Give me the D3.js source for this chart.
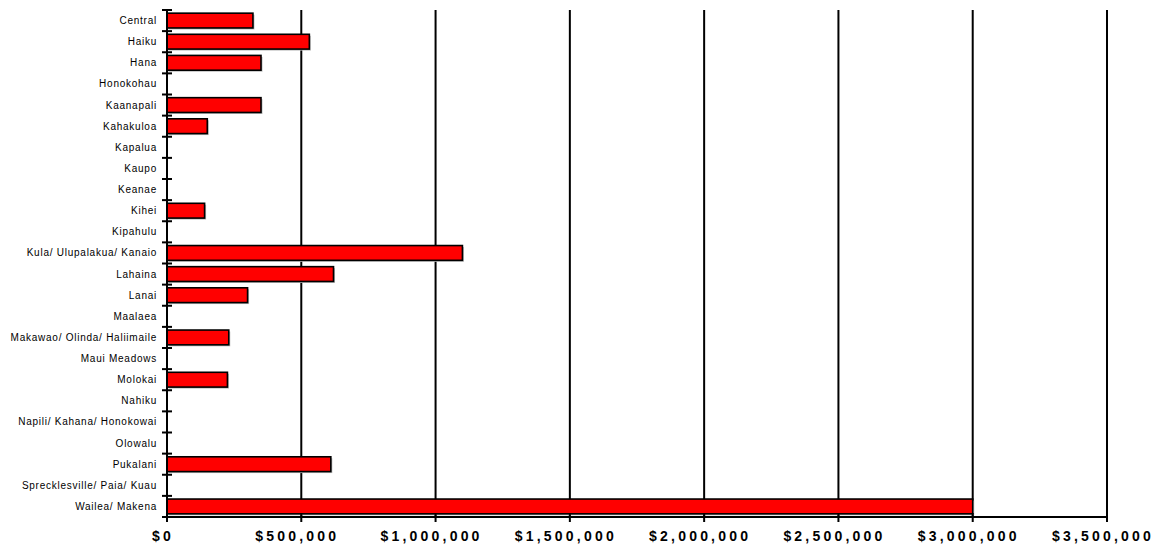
<!DOCTYPE html>
<html lang="en">
<head>
<meta charset="UTF-8">
<title>Maui</title>
<script src="https://cdn.jsdelivr.net/npm/d3@7"></script>
<style>
  body { margin: 0; background: #fff; }
  svg { display: block; }
</style>
</head>
<body>
<script>
// areas, top to bottom
var areas = ["Central", "Haiku", "Hana", "Honokohau", "Kaanapali", "Kahakuloa",
  "Kapalua", "Kaupo", "Keanae", "Kihei", "Kipahulu", "Kula/ Ulupalakua/ Kanaio",
  "Lahaina", "Lanai", "Maalaea", "Makawao/ Olinda/ Haliimaile", "Maui Meadows",
  "Molokai", "Nahiku", "Napili/ Kahana/ Honokowai", "Olowalu", "Pukalani",
  "Sprecklesville/ Paia/ Kuau", "Wailea/ Makena"];
var amounts = [320000, 530000, 350000, 0, 350000, 150000,
  0, 0, 0, 140000, 0, 1100000,
  620000, 300000, 0, 230000, 0,
  225000, 0, 0, 0, 610000,
  0, 3000000];
var xTicks = [0, 500000, 1000000, 1500000, 2000000, 2500000, 3000000, 3500000];

var width = 1156, height = 548;
var pLeft = 167, pRight = 1107, pTop = 10, pBottom = 517;

var svg = d3.select("body").append("svg")
    .attr("width", width)
    .attr("height", height);

var x = d3.scaleLinear().domain([0, 3500000]).range([pLeft, pRight]);
var y = d3.scaleBand().domain(areas).range([pTop, pBottom]).paddingInner(0.3).paddingOuter(0.15);
var bandEdge = d3.scaleLinear().domain([0, areas.length]).range([pTop, pBottom]);

// gridlines
svg.append("g").selectAll("line")
    .data(xTicks.slice(1))
    .join("line")
    .attr("x1", d => x(d)).attr("x2", d => x(d))
    .attr("y1", pTop).attr("y2", pBottom)
    .attr("stroke", "#000").attr("stroke-width", 2);

// bars with a light shadow
var data = areas.map((a, i) => ({ name: a, v: amounts[i] })).filter(d => d.v > 0);
svg.append("g").selectAll("rect")
    .data(data)
    .join("rect")
    .attr("x", x(0) + 1.5)
    .attr("y", d => y(d.name) + 1.5)
    .attr("width", d => x(d.v) - x(0))
    .attr("height", y.bandwidth())
    .attr("fill", "#bbb");
svg.append("g").selectAll("rect")
    .data(data)
    .join("rect")
    .attr("x", x(0))
    .attr("y", d => y(d.name))
    .attr("width", d => x(d.v) - x(0))
    .attr("height", y.bandwidth())
    .attr("fill", "#ff0000")
    .attr("stroke", "#000")
    .attr("stroke-width", 1.6);

// y axis: line, ticks at band edges, labels
svg.append("line")
    .attr("x1", pLeft).attr("x2", pLeft).attr("y1", pTop).attr("y2", pBottom + 4)
    .attr("stroke", "#000").attr("stroke-width", 2);
svg.append("g").selectAll("line")
    .data(d3.range(areas.length + 1))
    .join("line")
    .attr("x1", pLeft - 5).attr("x2", pLeft + 5)
    .attr("y1", d => bandEdge(d)).attr("y2", d => bandEdge(d))
    .attr("stroke", "#000").attr("stroke-width", 2);
svg.append("g").selectAll("text")
    .data(areas)
    .join("text")
    .attr("x", pLeft - 10)
    .attr("y", d => y(d) + y.bandwidth() / 2)
    .attr("dy", "0.35em")
    .attr("text-anchor", "end")
    .attr("font-family", "'Liberation Sans', Arial, sans-serif")
    .attr("font-size", 10)
    .attr("letter-spacing", 0.75)
    .attr("fill", "#000")
    .text(d => d);

// x axis
svg.append("line")
    .attr("x1", pLeft).attr("x2", pRight).attr("y1", pBottom).attr("y2", pBottom)
    .attr("stroke", "#000").attr("stroke-width", 2);
svg.append("g").selectAll("line")
    .data(xTicks)
    .join("line")
    .attr("x1", d => x(d)).attr("x2", d => x(d))
    .attr("y1", pBottom - 4).attr("y2", pBottom + 5)
    .attr("stroke", "#000").attr("stroke-width", 2);
svg.append("g").selectAll("text")
    .data(xTicks)
    .join("text")
    .attr("x", d => x(d) - 4)
    .attr("y", 541)
    .attr("text-anchor", "middle")
    .attr("font-family", "'Liberation Sans', Arial, sans-serif")
    .attr("font-size", 14)
    .attr("font-weight", "bold")
    .attr("letter-spacing", 3.2)
    .attr("fill", "#000")
    .text(d => "$" + d3.format(",")(d));
</script>
</body>
</html>
